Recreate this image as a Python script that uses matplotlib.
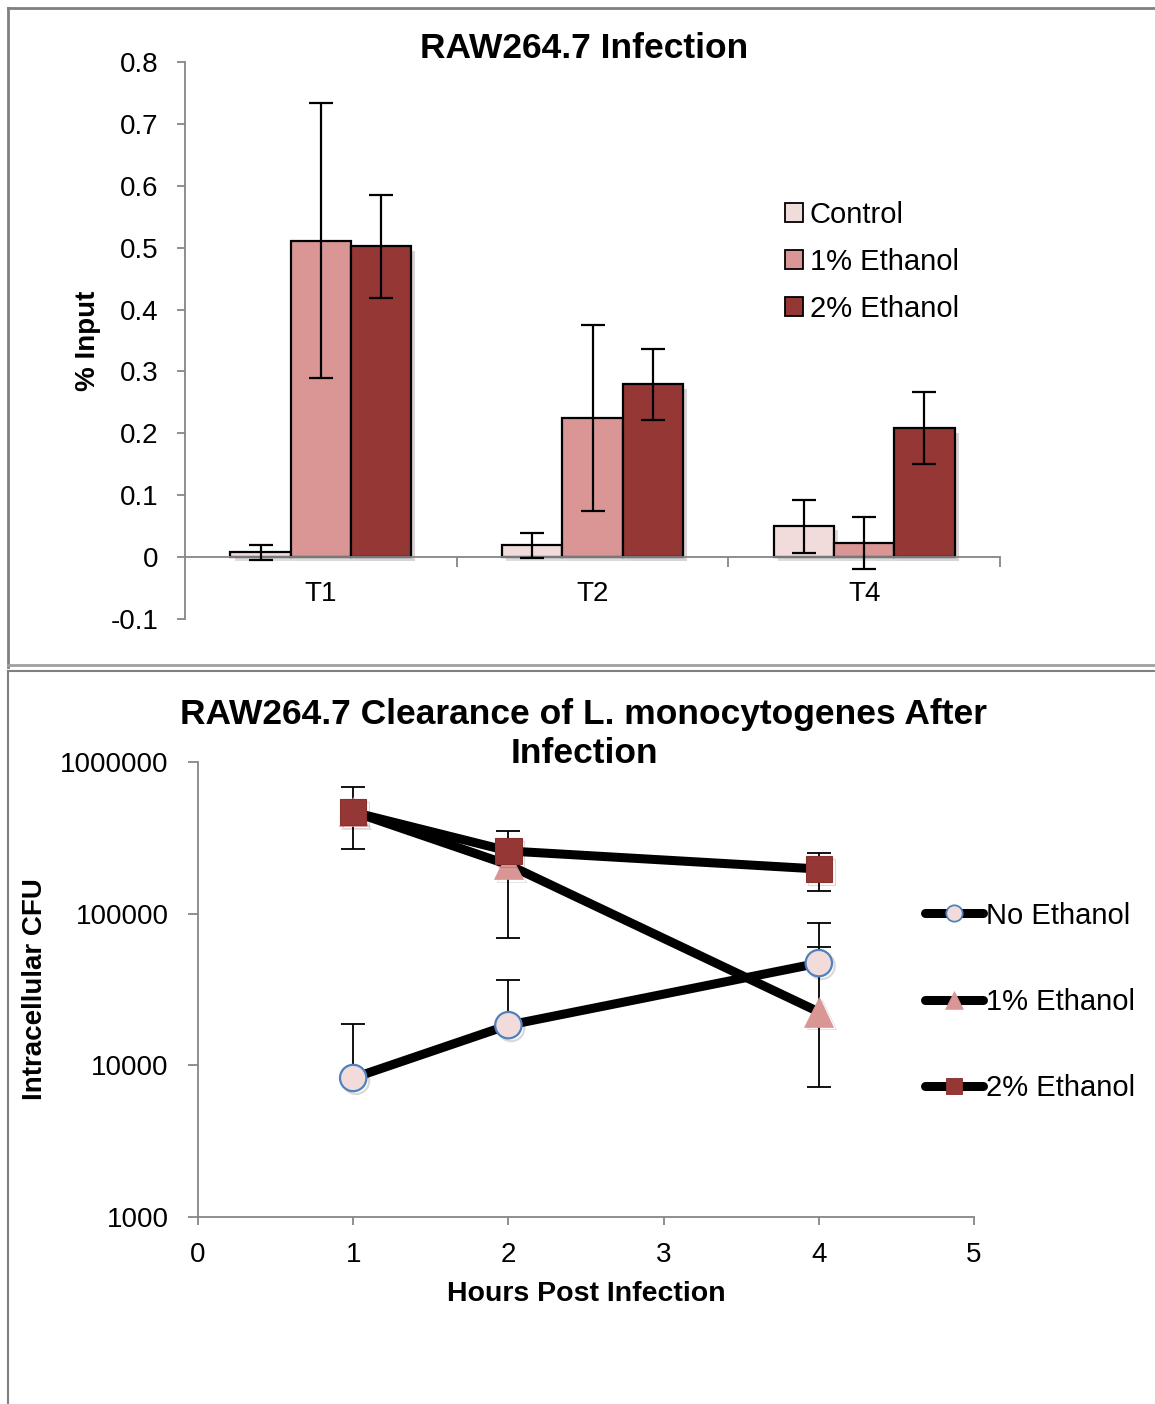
import matplotlib
matplotlib.use("Agg")
import matplotlib.pyplot as plt
import matplotlib.patheffects as pe
from matplotlib.lines import Line2D
from matplotlib.patches import Patch
from matplotlib.ticker import FixedLocator, FuncFormatter, NullLocator
import numpy as np

plt.rcParams['font.family'] = ['Liberation Sans', 'DejaVu Sans']

# ---------------- data: top chart ----------------
timepoints = ["T1", "T2", "T4"]
bar_series = ["Control", "1% Ethanol", "2% Ethanol"]
control_vals = [0.008, 0.019, 0.050]
control_err = [0.012, 0.020, 0.043]
eth1_vals = [0.511, 0.225, 0.023]
eth1_err = [0.222, 0.150, 0.042]
eth2_vals = [0.502, 0.279, 0.208]
eth2_err = [0.083, 0.058, 0.058]
top_yticks = [-0.1, 0, 0.1, 0.2, 0.3, 0.4, 0.5, 0.6, 0.7, 0.8]

# ---------------- data: bottom chart ----------------
hours = [1, 2, 4]
line_series = ["No Ethanol", "1% Ethanol", "2% Ethanol"]
no_eth_cfu = [8250, 18400, 47200]
no_eth_hi = [18700, 36500, 86700]
no_eth_lo = [8250, 18400, 47200]
eth1_cfu = [470000, 210000, 22500]
eth1_hi = [550000, 280000, 60200]
eth1_lo = [400000, 69000, 7190]
eth2_cfu = [467000, 259000, 197000]
eth2_hi = [684000, 351000, 251000]
eth2_lo = [267000, 230000, 141000]
bottom_xticks = [0, 1, 2, 3, 4, 5]
bottom_yticks = [1000, 10000, 100000, 1000000]

c_light = "#F2DCDB"
c_mid = "#D99694"
c_dark = "#953735"
c_blue = "#4F81BD"
grey = "#868686"

W, H = 1155, 1404
fig = plt.figure(figsize=(W / 100, H / 100), dpi=100)

def fx(px):
    return px / W

def fy(py):
    return 1 - py / H

# panel borders
for (x0, y0, x1, y1, c, lw) in [
    (8, 8, 8, 667, "#808080", 2.0),
    (8, 8, 1155, 8, "#808080", 2.0),
    (8, 665, 1155, 665, "#a0a0a0", 2.0),
    (8, 671, 1155, 671, "#808080", 1.5),
    (8, 671, 8, 1404, "#808080", 1.5),
]:
    fig.add_artist(Line2D([fx(x0), fx(x1)], [fy(y0), fy(y1)], color=c, lw=lw,
                          transform=fig.transFigure))

# ---------------- top chart ----------------
ax1 = fig.add_axes([fx(185), fy(619), fx(1000) - fx(185), fy(62) - fy(619)])
x = np.arange(len(timepoints))
bw = 0.222
shadow = [pe.SimplePatchShadow(offset=(3, -3), alpha=0.18), pe.Normal()]
bar_handles = []
for i, (vals, errs, col, lab) in enumerate([
        (control_vals, control_err, c_light, bar_series[0]),
        (eth1_vals, eth1_err, c_mid, bar_series[1]),
        (eth2_vals, eth2_err, c_dark, bar_series[2])]):
    bars = ax1.bar(x + (i - 1) * bw, vals, width=bw, color=col, edgecolor="black",
                   linewidth=1.6, zorder=2)
    for b in bars:
        b.set_path_effects(shadow)
    ax1.errorbar(x + (i - 1) * bw, vals, yerr=errs, fmt="none", ecolor="black",
                 elinewidth=1.6, capsize=8.5, capthick=1.6, zorder=3)
    bar_handles.append(Patch(facecolor=col, edgecolor="black", linewidth=1.3, label=lab))

ax1.set_xlim(-0.5, 2.5)
ax1.set_ylim(-0.1, 0.8)
ax1.spines["top"].set_visible(False)
ax1.spines["right"].set_visible(False)
ax1.spines["bottom"].set_position(("data", 0))
for s in ["left", "bottom"]:
    ax1.spines[s].set_color(grey)
    ax1.spines[s].set_linewidth(1.3)
ax1.set_yticks(top_yticks)
ax1.yaxis.set_major_formatter(FuncFormatter(lambda v, p: "0" if abs(v) < 1e-9 else f"{v:.1f}"))
ax1.tick_params(axis="y", direction="out", length=6, width=1.3, color=grey,
                labelsize=20, pad=13)
ax1.set_xticks(x)
ax1.set_xticklabels(timepoints)
ax1.xaxis.set_minor_locator(FixedLocator([0.5, 1.5, 2.5]))
ax1.tick_params(axis="x", which="major", length=0, labelsize=20, pad=17)
ax1.tick_params(axis="x", which="minor", direction="out", length=7, width=1.3, color=grey)
ax1.set_ylabel("% Input", fontsize=20, fontweight="bold")
ax1.yaxis.set_label_coords((101 - 185) / 815, 0.5)
fig.text(fx(584), fy(49), "RAW264.7 Infection", ha="center", va="center",
         fontsize=25.5, fontweight="bold")
ax1.legend(handles=bar_handles, loc="center left", bbox_to_anchor=(fx(785), fy(262)),
           bbox_transform=fig.transFigure, frameon=False, fontsize=21,
           handlelength=0.6, handleheight=0.6, handletextpad=0.25,
           labelspacing=0.65, borderpad=0, borderaxespad=0)

# ---------------- bottom chart ----------------
ax2 = fig.add_axes([fx(198), fy(1217), fx(974) - fx(198), fy(762) - fy(1217)])
ax2.set_yscale("log")
ax2.set_xlim(0, 5)
ax2.set_ylim(1000, 1000000)

series = [
    (no_eth_cfu, no_eth_hi, no_eth_lo, "o", 19, c_light, c_blue, 1.6, line_series[0]),
    (eth1_cfu, eth1_hi, eth1_lo, "^", 21, c_mid, c_mid, 0.5, line_series[1]),
    (eth2_cfu, eth2_hi, eth2_lo, "s", 19, c_dark, "#8a3230", 0.8, line_series[2]),
]
mshadow = [pe.SimpleLineShadow(offset=(2, -2), alpha=0.15), pe.Normal()]
handles = []
for k, (v, hi, lo, m, ms, fc, ec, mew, lab) in enumerate(series):
    v = np.array(v, float)
    yerr = [v - np.array(lo, float), np.array(hi, float) - v]
    ax2.errorbar(hours, v, yerr=yerr, fmt="none", ecolor="black", elinewidth=1.3,
                 capsize=8.5, capthick=1.3, zorder=2 + k * 0.1)
    ax2.plot(hours, v, color="black", lw=6.5, solid_capstyle="round",
             solid_joinstyle="round", zorder=3 + k * 0.1)
    mk, = ax2.plot(hours, v, linestyle="none", marker=m, markersize=ms,
                   markerfacecolor=fc, markeredgecolor=ec, markeredgewidth=mew,
                   zorder=4 + k * 0.1)
    mk.set_path_effects(mshadow)
    handles.append(Line2D([0], [0], color="black", lw=6.5, solid_capstyle="round",
                          marker=m, markersize=ms * 0.62, markerfacecolor=fc,
                          markeredgecolor=ec, markeredgewidth=mew * 0.8, label=lab))

ax2.spines["top"].set_visible(False)
ax2.spines["right"].set_visible(False)
for s in ["left", "bottom"]:
    ax2.spines[s].set_color(grey)
    ax2.spines[s].set_linewidth(1.3)
ax2.set_xticks(bottom_xticks)
ax2.set_yticks(bottom_yticks)
ax2.yaxis.set_minor_locator(NullLocator())
ax2.yaxis.set_major_formatter(FuncFormatter(lambda v, p: f"{int(round(v))}"))
ax2.tick_params(axis="y", direction="out", length=7, width=1.3, color=grey,
                labelsize=20, pad=14)
ax2.tick_params(axis="x", direction="out", length=6, width=1.3, color=grey,
                labelsize=20, pad=12)
ax2.set_xlabel("Hours Post Infection", fontsize=20.5, fontweight="bold")
ax2.xaxis.set_label_coords(0.5, (1217 - 1281) / 455)
ax2.set_ylabel("Intracellular CFU", fontsize=20, fontweight="bold")
ax2.yaxis.set_label_coords((48 - 198) / 776, 0.5)
fig.text(fx(584), fy(734), "RAW264.7 Clearance of L. monocytogenes After\nInfection",
         ha="center", va="center", fontsize=25.5, fontweight="bold",
         multialignment="center", linespacing=1.2)
ax2.legend(handles=handles, loc="center left", bbox_to_anchor=(fx(925), fy(1002)),
           bbox_transform=fig.transFigure, frameon=False, fontsize=21,
           handlelength=2.0, handletextpad=0.1, labelspacing=2.0,
           borderpad=0, borderaxespad=0)

fig.savefig("out.png", dpi=100)
